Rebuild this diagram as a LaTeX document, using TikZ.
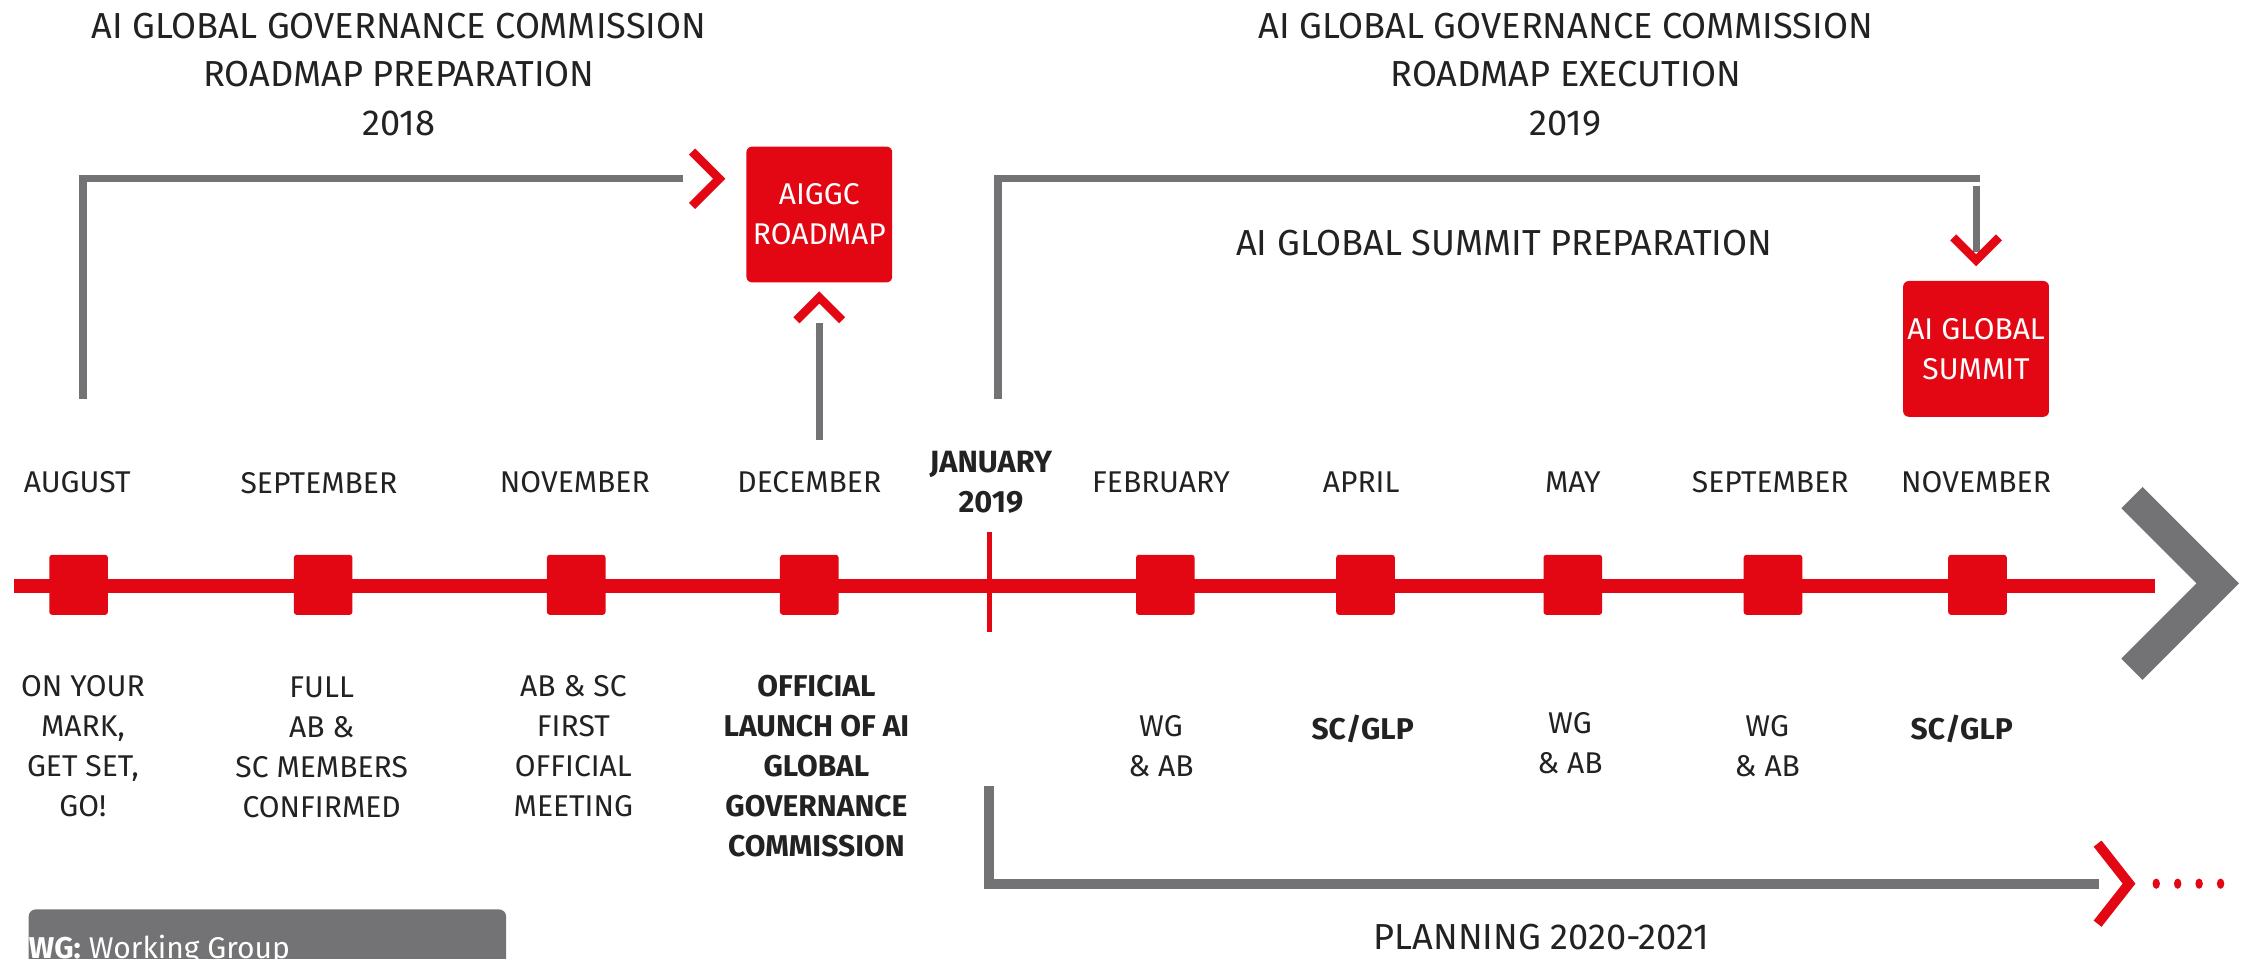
\documentclass[tikz,border=0pt]{standalone}
\usepackage{fontspec}
\setmainfont{Fira Sans}
\definecolor{aired}{HTML}{E30613}
\definecolor{aigray}{HTML}{737375}
\definecolor{aitext}{HTML}{222222}
\begin{document}
\begin{tikzpicture}[x=1pt,y=-1pt,
 title/.style={font=\fontsize{25.3}{34}\selectfont, text=aitext, align=center, inner sep=0pt},
 month/.style={font=\fontsize{21}{28}\selectfont, text=aitext, align=center, inner sep=0pt},
 desc/.style={font=\fontsize{21}{28}\selectfont, text=aitext, align=center, anchor=north, inner sep=0pt},
 marker/.style={fill=aired, rounded corners=2pt, minimum width=41pt, minimum height=42pt, inner sep=0pt},
 redbox/.style={fill=aired, rounded corners=4pt, minimum width=102pt, minimum height=95pt, text=white, align=center, font=\fontsize{21}{28}\selectfont, inner sep=0pt},
 grayline/.style={draw=aigray, line width=5pt},
 redchev/.style={draw=aired, line width=6pt, miter limit=10},
]
\useasboundingbox (0,0) rectangle (1568,670);

% titles
\node[title] (t1) at (279,52) {AI GLOBAL GOVERNANCE COMMISSION\\ROADMAP PREPARATION\\2018};
\node[title] (t2) at (1095,52) {AI GLOBAL GOVERNANCE COMMISSION\\ROADMAP EXECUTION\\2019};
\node[title] (t3) at (1052,170) {AI GLOBAL SUMMIT PREPARATION};

% red boxes
\node[redbox] (roadmap) at (573,150) {AIGGC\\ROADMAP};
\node[redbox] (summit) at (1382,244) {AI GLOBAL\\SUMMIT};

% left bracket
\coordinate (lb0) at (58,279);
\coordinate (lb2) at (478,125);
\draw[grayline] (lb0) |- (lb2);
\coordinate (ch1a) at (484,106);
\coordinate (ch1b) at (503,125);
\coordinate (ch1c) at (484,144);
\draw[redchev] (ch1a) -- (ch1b) -- (ch1c);

% up arrow to roadmap
\coordinate (up0) at (573,308);
\coordinate (up1) at (573,226);
\draw[grayline] (up0) -- (up1);
\coordinate (ch2a) at (557,224);
\coordinate (ch2b) at (573,208);
\coordinate (ch2c) at (589,224);
\draw[redchev] (ch2a) -- (ch2b) -- (ch2c);

% right bracket
\coordinate (rb0) at (698,279);
\coordinate (rb2) at (1385,125);
\draw[grayline] (rb0) |- (rb2);
\coordinate (rd0) at (1382,130);
\coordinate (rd1) at (1382,176);
\draw[grayline] (rd0) -- (rd1);
\coordinate (ch3a) at (1366,166);
\coordinate (ch3b) at (1382,182);
\coordinate (ch3c) at (1398,166);
\draw[redchev] (ch3a) -- (ch3b) -- (ch3c);

% main timeline
\coordinate (tl0) at (10,410);
\coordinate (tl1) at (1507,410);
\draw[aired, line width=10pt] (tl0) -- (tl1);
\coordinate (jt0) at (692,372);
\coordinate (jt1) at (692,442);
\draw[aired, line width=4pt] (jt0) -- (jt1);
\coordinate (bg0) at (1491,348);
\coordinate (bg1) at (1551,408);
\coordinate (bg2) at (1491,468);
\draw[aigray, line width=21pt, miter limit=10] (bg0) -- (bg1) -- (bg2);

% markers
\foreach \i/\x in {1/55,2/226,3/403,4/566,5/815,6/955,7/1100,8/1240,9/1383}
  \node[marker] (m\i) at (\x,409) {};

% months
\node[month] (n1) at (54,337) {AUGUST};
\node[month] (n2) at (223,338) {SEPTEMBER};
\node[month] (n3) at (402,337) {NOVEMBER};
\node[month] (n4) at (566,337) {DECEMBER};
\node[month, font=\fontsize{21.5}{28}\selectfont\bfseries] (n5) at (693,337) {JANUARY\\2019};
\node[month] (n6) at (812,337) {FEBRUARY};
\node[month] (n7) at (952,337) {APRIL};
\node[month] (n8) at (1100,337) {MAY};
\node[month] (n9) at (1238,337) {SEPTEMBER};
\node[month] (n10) at (1382,337) {NOVEMBER};

% descriptions
\node[desc] (d1) at (58,472) {ON YOUR\\MARK,\\GET SET,\\GO!};
\node[desc] (d2) at (225,473) {FULL\\AB \&\\SC MEMBERS\\CONFIRMED};
\node[desc] (d3) at (401,472) {AB \& SC\\FIRST\\OFFICIAL\\MEETING};
\node[desc, font=\fontsize{21}{28}\selectfont\bfseries] (d4) at (571,472) {OFFICIAL\\LAUNCH OF AI\\GLOBAL\\GOVERNANCE\\COMMISSION};
\node[desc] (d5) at (812,500) {WG\\\& AB};
\node[desc, font=\fontsize{21}{28}\selectfont\bfseries] (d6) at (953,500) {SC/GLP};
\node[desc] (d7) at (1098,498) {WG\\\& AB};
\node[desc] (d8) at (1236,500) {WG\\\& AB};
\node[desc, font=\fontsize{21}{28}\selectfont\bfseries] (d9) at (1372,500) {SC/GLP};

% bottom planning bracket
\coordinate (pb0) at (692,550);
\coordinate (pb1) at (1468,618);
\draw[aigray, line width=7pt] (pb0) |- (pb1);
\coordinate (ch4a) at (1467,590);
\coordinate (ch4b) at (1489,618);
\coordinate (ch4c) at (1467,646);
\draw[aired, line width=7pt, miter limit=10] (ch4a) -- (ch4b) -- (ch4c);
\foreach \i/\x in {1/1508,2/1523,3/1538,4/1553}
  \fill[aired] (\x,618) ellipse (2.6pt and 3.6pt);
\node[title] (plan) at (1078,655) {PLANNING 2020-2021};

% legend
\fill[aigray, rounded corners=5pt] (20,636) rectangle (354,700);
\node[anchor=base west, text=white, inner sep=0pt, font=\fontsize{21}{28}\selectfont] (legend) at (20,670) {\textbf{WG:} Working Group};
\end{tikzpicture}
\end{document}
